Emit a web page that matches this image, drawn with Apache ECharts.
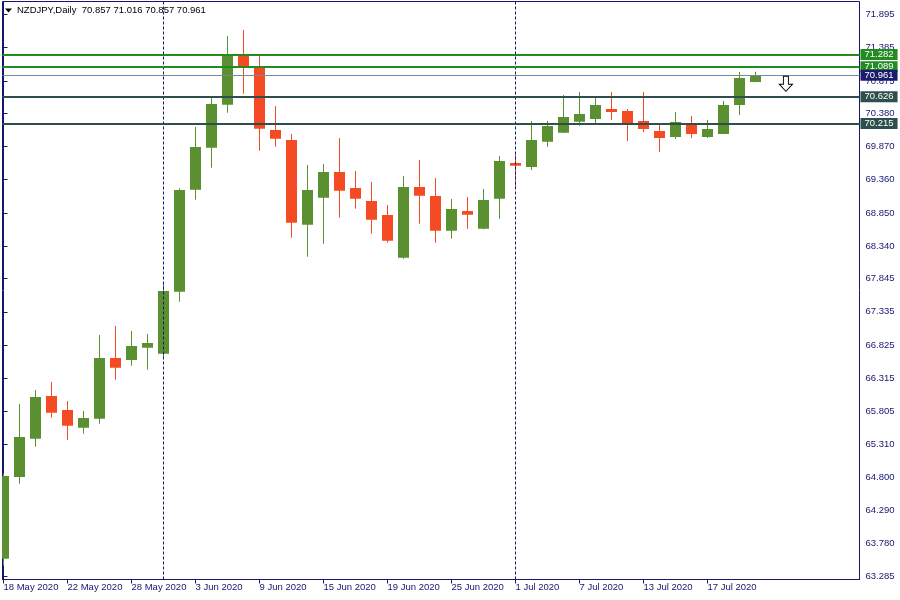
<!DOCTYPE html>
<html>
<head>
<meta charset="utf-8">
<script src="https://cdn.jsdelivr.net/npm/echarts@6/dist/echarts.min.js"></script>
<style>html,body{margin:0;padding:0;background:#fff}#c{width:900px;height:600px}</style>
</head>
<body>
<div id="c"></div>
<script>
var symbol = "NZDJPY";
var period = "Daily";
var dates = ["18 May 2020","19 May 2020","20 May 2020","21 May 2020","22 May 2020","25 May 2020","26 May 2020","27 May 2020","28 May 2020","29 May 2020","1 Jun 2020","2 Jun 2020","3 Jun 2020","4 Jun 2020","5 Jun 2020","8 Jun 2020","9 Jun 2020","10 Jun 2020","11 Jun 2020","12 Jun 2020","15 Jun 2020","16 Jun 2020","17 Jun 2020","18 Jun 2020","19 Jun 2020","22 Jun 2020","23 Jun 2020","24 Jun 2020","25 Jun 2020","26 Jun 2020","29 Jun 2020","30 Jun 2020","1 Jul 2020","2 Jul 2020","3 Jul 2020","6 Jul 2020","7 Jul 2020","8 Jul 2020","9 Jul 2020","10 Jul 2020","13 Jul 2020","14 Jul 2020","15 Jul 2020","16 Jul 2020","17 Jul 2020","20 Jul 2020","21 Jul 2020","22 Jul 2020"];
var open  = [63.550,64.803,65.390,66.044,65.830,65.558,65.696,66.627,66.596,66.785,66.693,67.643,69.207,69.851,70.510,71.257,71.103,70.122,69.969,68.670,69.084,69.478,69.233,69.034,68.819,68.164,69.248,69.110,68.578,68.880,68.609,69.069,69.616,69.555,69.943,70.081,70.249,70.291,70.444,70.413,70.260,70.107,70.015,70.229,70.015,70.061,70.505,70.857];
var high  = [64.859,65.922,66.136,66.259,65.968,65.814,66.979,67.117,67.041,66.995,67.761,69.228,70.168,70.643,71.563,71.655,71.276,70.490,70.061,69.586,69.601,69.999,69.494,69.325,68.972,69.417,69.662,69.386,69.064,69.095,69.218,69.724,69.785,70.260,70.260,70.659,70.705,70.613,70.705,70.444,70.705,70.199,70.398,70.337,70.275,70.567,71.011,71.016];
var low   = [63.443,64.700,65.267,65.712,65.370,65.466,65.620,66.294,66.509,66.448,66.612,67.490,69.054,69.544,70.387,70.679,69.805,69.866,68.471,68.180,68.379,68.778,68.916,68.532,68.394,68.149,68.686,68.394,68.456,68.609,68.600,68.762,69.218,69.509,69.866,70.076,70.188,70.203,70.275,69.953,70.091,69.785,69.984,69.999,69.999,70.061,70.352,70.857];
var close = [64.818,65.416,66.029,65.788,65.589,65.707,66.627,66.478,66.811,66.857,67.654,69.202,69.861,70.521,71.287,71.092,70.142,69.989,68.701,69.202,69.478,69.192,69.069,68.747,68.425,69.248,69.115,68.578,68.911,68.824,69.049,69.647,69.575,69.969,70.183,70.321,70.367,70.505,70.398,70.229,70.137,69.999,70.245,70.061,70.137,70.505,70.919,70.961];
var yTicks = [71.895,71.385,70.875,70.380,69.870,69.360,68.850,68.340,67.845,67.335,66.825,66.315,65.805,65.310,64.800,64.290,63.780,63.285];
var greenLevels = [71.282, 71.089];
var darkLevels = [70.626, 70.215];
var arrowAt = [48.9, 70.83];

var FONT = "'Liberation Sans', Arial, sans-serif";
var NAVY = "#16166e";
var UP = "#5b9030", DOWN = "#f44b24";

var n = dates.length;
var candles = [];
for (var i = 0; i < n; i++) candles.push([i, open[i], close[i], low[i], high[i]]);
var xLabelIdx = [];
for (var i = 0; i < n; i += 4) xLabelIdx.push(i);
var monthStarts = [];
for (var i = 1; i < n; i++) {
  if (dates[i].split(" ")[1] !== dates[i-1].split(" ")[1]) monthStarts.push(i);
}
var lastClose = close[n-1];
var title = symbol + "," + period + "  " + open[n-1].toFixed(3) + " " + high[n-1].toFixed(3) + " " + low[n-1].toFixed(3) + " " + close[n-1].toFixed(3);

function lvlLine(v, lineColor, boxColor, width) {
  return {
    yAxis: v,
    lineStyle: {color: lineColor, width: width, type: 'solid'},
    label: {show: true, position: 'end', distance: 1, formatter: v.toFixed(3), color: '#fff',
      backgroundColor: boxColor, padding: [1, 4, 0, 4], fontFamily: FONT, fontSize: 9.5, lineHeight: 10}
  };
}
var levelData = [];
greenLevels.forEach(function(v){ levelData.push(lvlLine(v, '#228b22', '#228b22', 2)); });
levelData.push(lvlLine(lastClose, '#778899', '#1c1c6c', 1));
darkLevels.forEach(function(v){ levelData.push(lvlLine(v, '#2f4f4f', '#2f4f4f', 2)); });

var chart = echarts.init(document.getElementById('c'), null, {renderer: 'canvas'});
chart.setOption({
  animation: false,
  backgroundColor: '#fff',
  title: {text: title, left: 17, top: 5, padding: 0,
    textStyle: {fontFamily: FONT, fontSize: 9.5, fontWeight: 'normal', color: '#000'}},
  graphic: [{type: 'polygon', shape: {points: [[5,8.5],[12,8.5],[8.5,12.5]]}, style: {fill: '#000'}}],
  grid: {left: 2.5, top: 1.5, right: 40.5, bottom: 20.5, show: true, borderColor: NAVY, borderWidth: 1, backgroundColor: '#fff'},
  xAxis: {
    type: 'value', min: -0.0625, max: 53.5, splitLine: {show: false},
    axisLine: {show: true, lineStyle: {color: NAVY}},
    axisTick: {show: true, length: 4, inside: false, customValues: xLabelIdx, lineStyle: {color: NAVY}},
    axisLabel: {customValues: xLabelIdx, align: 'left', margin: 3, color: NAVY, fontFamily: FONT, fontSize: 9.5,
      formatter: function(v){ return dates[Math.round(v)] || ''; }}
  },
  yAxis: {
    type: 'value', position: 'right', min: 63.2313, max: 72.092, scale: true, splitLine: {show: false},
    axisLine: {show: true, lineStyle: {color: NAVY}},
    axisTick: {show: true, length: 4, customValues: yTicks, lineStyle: {color: NAVY}},
    axisLabel: {customValues: yTicks, margin: 6, color: NAVY, fontFamily: FONT, fontSize: 9.5,
      formatter: function(v){ return v.toFixed(3); }}
  },
  series: [
    {type: 'line', data: [], z: 1, silent: true,
      markLine: {silent: true, symbol: 'none', animation: false,
        lineStyle: {color: NAVY, width: 1, type: [3, 2]}, label: {show: false},
        data: monthStarts.map(function(i){ return {xAxis: i}; })}},
    {type: 'custom', z: 2, clip: true, data: candles, encode: {x: 0, y: [1,2,3,4]},
      renderItem: function(params, api) {
        var x = api.value(0), o = api.value(1), c = api.value(2), l = api.value(3), h = api.value(4);
        var pO = api.coord([x, o]), pC = api.coord([x, c]), pL = api.coord([x, l]), pH = api.coord([x, h]);
        var w = api.size([1, 0])[0] * 0.6875;
        var cx = Math.round(pO[0] - 0.5) + 0.5;
        var col = c >= o ? UP : DOWN;
        var top = Math.min(pO[1], pC[1]), bot = Math.max(pO[1], pC[1]);
        var bh = Math.max(bot - top, 1);
        return {type: 'group', children: [
          {type: 'line', shape: {x1: cx, y1: pH[1], x2: cx, y2: pL[1]}, style: {stroke: col, lineWidth: 1}},
          {type: 'rect', shape: {x: cx - w/2, y: top, width: w, height: bh}, style: {fill: col}}
        ]};
      }},
    {type: 'line', data: [], z: 3, silent: true,
      markLine: {silent: true, symbol: 'none', animation: false, data: levelData},
      markPoint: {silent: true, animation: false,
        data: [{coord: arrowAt, symbol: 'path://M4,0 L9,0 L9,8 L13,8 L6.5,15 L0,8 L4,8 Z', symbolSize: [13, 15],
          itemStyle: {color: '#fff', borderColor: '#000', borderWidth: 1}, label: {show: false}}]}}
  ]
});
</script>
</body>
</html>
